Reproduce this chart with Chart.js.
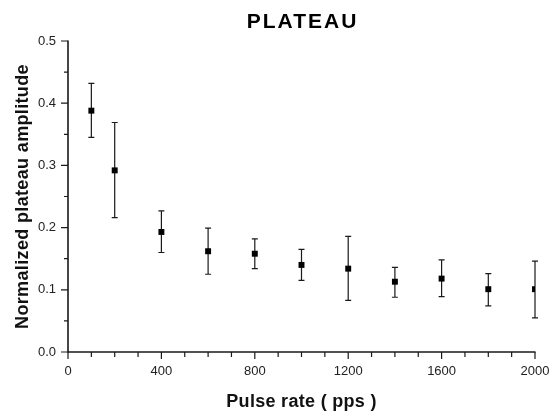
<!DOCTYPE html>
<html>
<head>
<meta charset="utf-8">
<script src="https://cdn.jsdelivr.net/npm/chart.js@4/dist/chart.umd.min.js"></script>
<style>
  html, body { margin: 0; padding: 0; background: #fff; }
  #wrap { width: 551px; height: 414px; }
</style>
</head>
<body>
<div id="wrap"><canvas id="c" width="551" height="414"></canvas></div>
<script>
// Pulse rate (pps) and normalized plateau amplitude with error bar limits
const pulseRates = [100, 200, 400, 600, 800, 1000, 1200, 1400, 1600, 1800, 2000];
const amplitude  = [0.388, 0.292, 0.193, 0.162, 0.158, 0.140, 0.134, 0.113, 0.118, 0.101, 0.101];
const errUpper   = [0.432, 0.369, 0.227, 0.199, 0.182, 0.165, 0.186, 0.136, 0.148, 0.126, 0.146];
const errLower   = [0.345, 0.216, 0.160, 0.125, 0.134, 0.115, 0.083, 0.088, 0.089, 0.074, 0.055];
const xTickLabels = ['0', '400', '800', '1200', '1600', '2000'];
const yTickLabels = ['0.0', '0.1', '0.2', '0.3', '0.4', '0.5'];

const chartTitle = 'PLATEAU';
const xTitle = 'Pulse rate ( pps )';
const yTitle = 'Normalized plateau amplitude';

const INK = '#1a1a1a';
const FONT = "'Liberation Sans', Arial, sans-serif";

const isTenth = v => Math.abs(v * 10 - Math.round(v * 10)) < 1e-6;

// Vertical error bars with caps, drawn under the square markers
const errorBars = {
  id: 'errorBars',
  beforeDatasetsDraw(chart) {
    const { ctx, scales: { x, y } } = chart;
    ctx.save();
    ctx.strokeStyle = INK;
    ctx.lineWidth = 1.2;
    pulseRates.forEach((r, i) => {
      const px = x.getPixelForValue(r);
      const top = y.getPixelForValue(errUpper[i]);
      const bot = y.getPixelForValue(errLower[i]);
      ctx.beginPath();
      ctx.moveTo(px, top); ctx.lineTo(px, bot);
      ctx.moveTo(px - 3, top); ctx.lineTo(px + 3, top);
      ctx.moveTo(px - 3, bot); ctx.lineTo(px + 3, bot);
      ctx.stroke();
    });
    ctx.restore();
  }
};

// Left and bottom axis lines, outward major/minor tick marks, and titles
const axisFrame = {
  id: 'axisFrame',
  afterDraw(chart) {
    const { ctx, chartArea: a, scales: { x, y } } = chart;
    ctx.save();
    ctx.strokeStyle = INK;
    ctx.lineWidth = 1.6;
    ctx.beginPath();
    ctx.moveTo(a.left, a.top - 0.5); ctx.lineTo(a.left, a.bottom);
    ctx.lineTo(a.right + 0.5, a.bottom);
    ctx.stroke();
    ctx.lineWidth = 1.2;
    ctx.beginPath();
    x.ticks.forEach(t => {
      const px = x.getPixelForValue(t.value);
      const major = xTickLabels.includes(String(Math.round(t.value)));
      ctx.moveTo(px, a.bottom); ctx.lineTo(px, a.bottom + (major ? 7 : 5));
    });
    y.ticks.forEach(t => {
      const py = y.getPixelForValue(t.value);
      const major = isTenth(t.value);
      ctx.moveTo(a.left, py); ctx.lineTo(a.left - (major ? 7 : 4), py);
    });
    ctx.stroke();

    const cx = (a.left + a.right) / 2;
    ctx.fillStyle = '#000';
    ctx.textAlign = 'center';
    ctx.textBaseline = 'alphabetic';

    ctx.font = 'bold 21px ' + FONT;
    ctx.letterSpacing = '2px';
    ctx.fillText(chartTitle, cx + 1, 27.5);

    ctx.fillStyle = '#111';
    ctx.font = 'bold 18px ' + FONT;
    ctx.letterSpacing = '0.3px';
    ctx.fillText(xTitle, cx, 406.5);

    ctx.save();
    ctx.translate(28, (a.top + a.bottom) / 2);
    ctx.rotate(-Math.PI / 2);
    ctx.letterSpacing = '0.35px';
    ctx.fillText(yTitle, 0, 0);
    ctx.restore();

    ctx.restore();
  }
};

new Chart(document.getElementById('c'), {
  type: 'scatter',
  data: {
    datasets: [{
      label: yTitle,
      data: pulseRates.map((r, i) => ({ x: r, y: amplitude[i] })),
      pointStyle: 'rect',
      pointRadius: 4.2,
      pointBackgroundColor: '#000',
      pointBorderColor: '#000',
      pointBorderWidth: 0,
      showLine: false
    }]
  },
  options: {
    responsive: false,
    animation: false,
    devicePixelRatio: 1,
    layout: { padding: { left: 0, right: 16, top: 41, bottom: 0 } },
    plugins: {
      legend: { display: false },
      tooltip: { enabled: false },
      title: { display: false }
    },
    scales: {
      x: {
        type: 'linear',
        min: 0, max: 2000,
        grid: { display: false, drawTicks: false },
        border: { display: false },
        ticks: {
          stepSize: 100,
          autoSkip: false,
          maxRotation: 0,
          padding: 12,
          color: '#222',
          font: { family: FONT, size: 13 },
          callback: v => xTickLabels.includes(String(Math.round(v))) ? String(Math.round(v)) : ''
        },
        afterFit(s) { s.height = 62; s.paddingLeft = 0; s.paddingRight = 0; }
      },
      y: {
        type: 'linear',
        min: 0, max: 0.5,
        grid: { display: false, drawTicks: false },
        border: { display: false },
        ticks: {
          stepSize: 0.05,
          autoSkip: false,
          padding: 12,
          color: '#222',
          font: { family: FONT, size: 13 },
          callback: v => {
            const s = v.toFixed(1);
            return isTenth(v) && yTickLabels.includes(s) ? s : '';
          }
        },
        afterFit(s) { s.width = 68; s.paddingTop = 0; s.paddingBottom = 0; }
      }
    }
  },
  plugins: [errorBars, axisFrame]
});
</script>
</body>
</html>
